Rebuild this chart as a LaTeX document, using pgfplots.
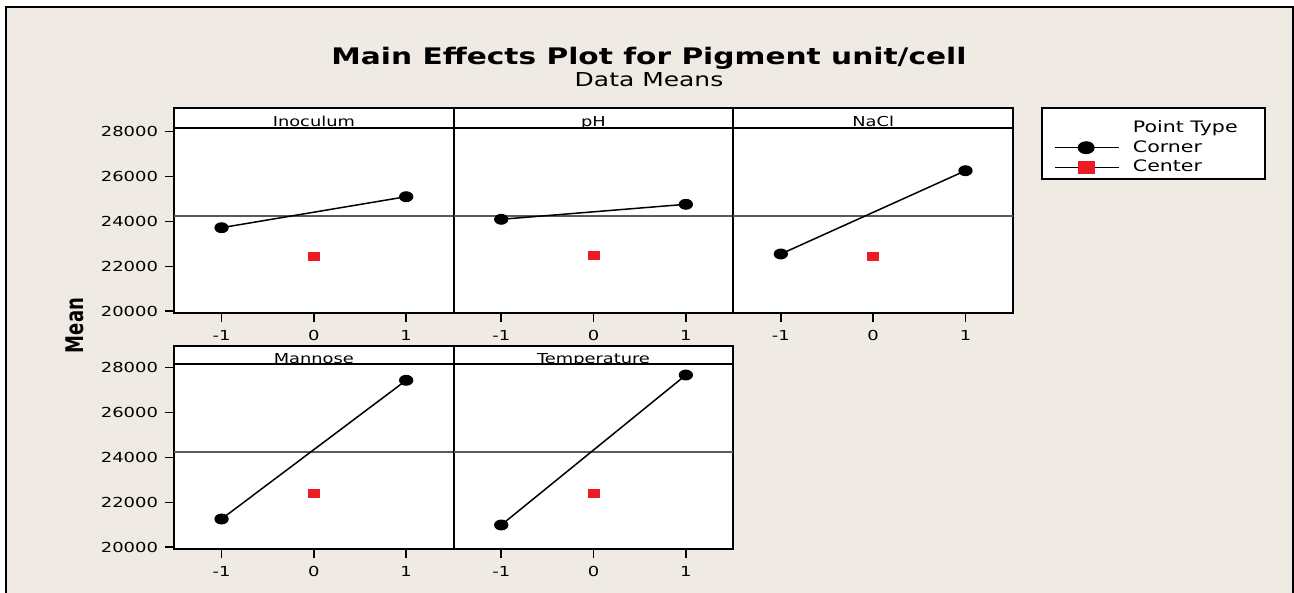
\documentclass[border=0pt]{standalone}
\usepackage{fontspec}
\setmainfont{DejaVu Sans}[FakeStretch=1.3]
\newfontfamily\meanfont{DejaVu Sans}
\usepackage{pgfplots}
\pgfplotsset{compat=1.18}
\definecolor{bg}{RGB}{239,235,228}
\definecolor{cred}{RGB}{237,28,36}
\definecolor{refgray}{RGB}{90,90,90}
\def\u{0.5pt}
\pgfplotsset{
 panel/.style={
  scale only axis, width=139.85pt, height=92.5pt,
  xmin=-1.515, xmax=1.515, ymin=19920, ymax=28160,
  xtick={-1,0,1}, ytick={20000,22000,24000,26000,28000},
  scaled ticks=false,
  tick align=outside, tick pos=left, major tick length=4.5pt,
  axis line style={line width=1pt},
  every tick/.style={black, line width=0.8pt},
  axis background/.style={fill=white},
  /pgf/number format/assume math mode=true,
  /pgf/number format/1000 sep={},
  ticklabel style={font=\fontsize{6.9}{8}\selectfont},
  xticklabel style={yshift=-0.8pt},
  clip=false,
 },
 noy/.style={ytick=\empty},
 corner/.style={black, line width=0.75pt, mark=*, mark size=2.35pt, mark options={xscale=1.36, fill=black}},
 center/.style={only marks, mark=square*, mark size=2pt, color=cred, mark options={xscale=1.4, fill=cred}},
 refline/.style={refgray, line width=0.6pt, forget plot},
 cornerleg/.style={legend image code/.code={\draw[mark repeat=2, mark phase=2, ##1, mark size=2.85pt] plot coordinates {(0pt,0pt) (15.5pt,0pt) (32pt,0pt)};}},
 centerleg/.style={legend image code/.code={\draw[black, line width=0.75pt] (0pt,0pt) -- (32pt,0pt); \draw[##1, mark size=2.9pt] plot coordinates {(15.5pt,0pt)};}},
}
\begin{document}
\begin{tikzpicture}
\useasboundingbox (0,0) rectangle (1294*\u,-593*\u);
\fill[white] (0,0) rectangle (1294*\u,-593*\u);
\fill[bg] (5*\u,-7*\u) rectangle (1293*\u,-593*\u);
\draw[line width=1pt] (5.5*\u,-593*\u) -- (5.5*\u,-7.5*\u) -- (1292.5*\u,-7.5*\u) -- (1292.5*\u,-593*\u);
% titles
\node[anchor=base, font=\bfseries\fontsize{11.4}{13}\selectfont] at (649*\u,-64.8*\u) {Main Effects Plot for Pigment unit/cell};
\node[anchor=base, font=\fontsize{9.6}{11}\selectfont] at (649*\u,-87*\u) {Data Means};
\node[font=\meanfont\bfseries\fontsize{9}{10}\selectfont, xscale=1.35, rotate=90] at (74.5*\u,-325.5*\u) {Mean};
% legend box
\draw[line width=0.8pt, fill=white] (1042*\u,-108*\u) rectangle (1265*\u,-179*\u);
% strips
\foreach \a/\b in {174/453.7, 453.7/733.3, 733.3/1013} {
  \draw[line width=1pt, fill=white] (\a*\u,-108*\u) rectangle (\b*\u,-128*\u);
}
\foreach \a/\b in {174/453.7, 453.7/733.3} {
  \draw[line width=1pt, fill=white] (\a*\u,-346*\u) rectangle (\b*\u,-364*\u);
}
\begin{scope}[every node/.style={font=\fontsize{6.85}{8}\selectfont, anchor=base}]
\node at (313.85*\u,-127*\u) {Inoculum};
\node at (593.5*\u,-127*\u) {pH};
\node at (873.2*\u,-127*\u) {NaCl};
\node at (313.85*\u,-363*\u) {Mannose};
\node at (593.5*\u,-363*\u) {Temperature};
\end{scope}
% Row 1
\begin{axis}[panel, at={(174*\u,-313*\u)}, anchor=south west]
\addplot[refline] coordinates {(-1.515,24240) (1.515,24240)};
\addplot[corner] coordinates {(-1,23719) (1,25100)};
\addplot[center] coordinates {(0,22460)};
\end{axis}
\begin{axis}[panel, noy, at={(453.7*\u,-313*\u)}, anchor=south west]
\addplot[refline] coordinates {(-1.515,24240) (1.515,24240)};
\addplot[corner] coordinates {(-1,24093) (1,24761)};
\addplot[center] coordinates {(0,22470)};
\end{axis}
\begin{axis}[panel, noy, at={(733.3*\u,-313*\u)}, anchor=south west,
  legend style={draw=none, fill=none, at={(axis description cs:1.1037,1.115)}, anchor=north west,
    font=\fontsize{7.9}{9}\selectfont, row sep=-1.4pt, column sep=4.5pt, inner xsep=6pt, inner ysep=4.5pt},
  legend cell align=left]
\addlegendimage{empty legend}
\addlegendentry{Point Type}
\addplot[refline] coordinates {(-1.515,24240) (1.515,24240)};
\addplot[corner, cornerleg] coordinates {(-1,22548) (1,26258)};
\addlegendentry{Corner}
\addplot[center, centerleg] coordinates {(0,22460)};
\addlegendentry{Center}
\end{axis}
% Row 2
\begin{axis}[panel, at={(174*\u,-549*\u)}, anchor=south west]
\addplot[refline] coordinates {(-1.515,24240) (1.515,24240)};
\addplot[corner] coordinates {(-1,21256) (1,27434)};
\addplot[center] coordinates {(0,22400)};
\end{axis}
\begin{axis}[panel, noy, at={(453.7*\u,-549*\u)}, anchor=south west]
\addplot[refline] coordinates {(-1.515,24240) (1.515,24240)};
\addplot[corner] coordinates {(-1,20989) (1,27670)};
\addplot[center] coordinates {(0,22400)};
\end{axis}
\end{tikzpicture}
\end{document}
